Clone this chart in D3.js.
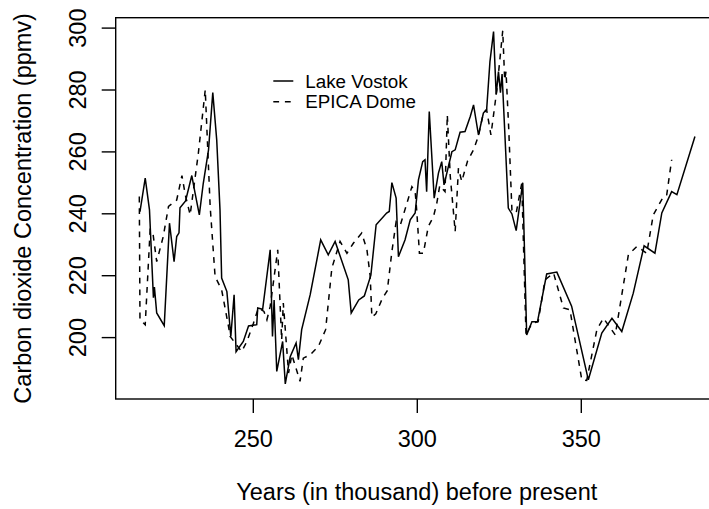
<!DOCTYPE html>
<html>
<head>
<meta charset="utf-8">
<script src="https://cdn.jsdelivr.net/npm/d3@7"></script>
<style>
  body { margin: 0; background: #fff; }
  svg { display: block; font-family: "Liberation Sans", Arial, sans-serif; }
  .axis path { display: none; }
  .axis line { stroke: #000; stroke-width: 1.4; }
  .axis text { font-size: 23.5px; fill: #000; }
</style>
</head>
<body>
<script>
var seriesNames = ["Lake Vostok", "EPICA Dome"];

var vostokYears = [215.6, 217.2, 218.5, 219.7, 220.0, 220.7, 223.0, 224.6, 226.0, 226.8, 227.5, 227.8, 229.5, 231.4,
    232.4, 233.7, 234.9, 236.5, 237.8, 239.0, 240.0, 240.5, 242.1, 243.3, 244.3, 244.9, 247.1, 248.7, 251.2, 251.5,
    253.0, 255.3, 256.0, 256.5, 257.3, 259.1, 259.9, 261.4, 263.2, 263.9, 264.9, 267.5, 270.7, 273.0, 275.1, 279.1,
    280.0, 282.3, 284.0, 286.0, 287.6, 290.8, 291.6, 292.4, 293.7, 294.4, 296.4, 298.0, 299.5, 300.5, 301.8, 302.5,
    303.0, 303.8, 305.3, 306.6, 307.6, 308.3, 310.7, 311.7, 313.2, 314.7, 316.3, 317.3, 318.8, 320.3, 321.3, 322.3,
    323.4, 324.2, 324.9, 325.5, 326.0, 327.9, 329.0, 330.3, 332.3, 333.5, 335.1, 336.8, 339.6, 342.7, 347.2, 352.3,
    356.4, 359.5, 362.5, 366.0, 369.3, 372.6, 374.7, 377.7, 379.3, 384.8];
var vostokCO2 = [240.5, 251.4, 241.1, 212.7, 216.2, 207.8, 203.7, 236.8, 224.4, 232.5, 233.7, 241.8, 244.0, 252.2,
    246.5, 239.5, 249.7, 260.5, 279.0, 263.7, 241.1, 219.1, 214.7, 200.2, 213.7, 195.3, 198.6, 203.6, 204.0, 209.4,
    209.0, 228.2, 200.2, 212.0, 188.9, 198.6, 184.9, 193.7, 198.1, 192.7, 202.4, 213.7, 231.4, 226.6, 230.9, 218.5,
    207.8, 212.0, 213.3, 220.0, 236.3, 240.1, 240.6, 249.9, 244.9, 226.0, 231.4, 237.9, 240.1, 250.8, 256.7, 257.3,
    247.0, 272.9, 244.9, 253.0, 256.7, 249.2, 259.9, 260.5, 266.2, 266.4, 271.3, 275.0, 265.3, 272.4, 273.6, 289.0,
    298.7, 278.3, 285.8, 279.0, 285.0, 241.7, 239.8, 234.4, 249.9, 200.7, 205.0, 205.0, 220.4, 221.0, 210.0, 186.2,
    201.3, 206.1, 201.8, 214.2, 229.5, 227.1, 240.1, 247.0, 246.0, 264.8];

var epicaYears = [215.4, 215.6, 217.2, 218.7, 219.5, 220.7, 222.7, 224.3, 226.8, 228.4, 229.4, 230.9, 233.4, 235.5,
    237.0, 238.5, 240.5, 242.6, 243.1, 246.6, 248.2, 250.2, 251.7, 253.4, 254.3, 255.3, 257.6, 258.3, 258.8, 259.3,
    260.9, 261.9, 264.4, 265.4, 267.5, 270.0, 272.2, 274.1, 276.6, 278.7, 280.7, 283.2, 284.8, 285.8, 286.3, 287.5,
    289.5, 291.0, 292.4, 293.7, 295.0, 297.0, 298.5, 299.5, 300.0, 300.8, 302.0, 303.5, 305.1, 306.1, 307.0, 308.6,
    309.3, 310.2, 311.2, 311.7, 312.7, 313.7, 315.5, 317.3, 318.8, 320.3, 321.3, 322.6, 323.4, 324.4, 326.2, 326.8,
    327.2, 328.0, 329.0, 330.3, 332.0, 333.3, 335.1, 337.0, 339.1, 341.7, 344.7, 346.7, 350.3, 351.8, 354.9, 356.9,
    360.5, 364.5, 367.1, 370.1, 372.1, 375.2, 376.2, 377.7];
var epicaCO2 = [245.4, 205.6, 204.0, 234.7, 234.0, 224.4, 232.5, 242.2, 244.3, 252.2, 246.0, 239.5, 259.4, 279.9,
    242.2, 219.6, 215.3, 203.4, 200.2, 195.3, 198.6, 204.5, 209.4, 208.3, 205.6, 209.9, 228.2, 211.0, 199.1, 211.0,
    188.4, 194.3, 185.7, 193.2, 194.3, 197.0, 202.4, 222.3, 230.9, 227.1, 230.4, 233.6, 228.2, 219.6, 206.5, 207.5,
    212.5, 215.0, 227.6, 237.3, 236.3, 243.3, 248.6, 247.0, 240.6, 227.1, 227.1, 235.7, 239.0, 243.3, 249.0, 247.0,
    271.8, 252.0, 240.1, 234.1, 254.6, 250.3, 257.0, 260.5, 265.0, 272.4, 273.4, 265.3, 271.8, 279.9, 299.0, 283.0,
    285.8, 268.0, 241.0, 240.1, 249.7, 200.7, 204.5, 205.0, 218.5, 220.7, 209.4, 208.8, 186.2, 186.0, 202.4, 206.1,
    200.7, 226.6, 229.3, 227.1, 239.5, 245.4, 246.0, 257.3];

var xTicks = [250, 300, 350];
var yTicks = [200, 220, 240, 260, 280, 300];

var svgContainer,
    svgWidth = 709,
    svgHeight = 509,
    box = {left: 115.7, top: 17.7, right: 717.9, bottom: 399},
    tickLength = 14,
    xScale, yScale;

function init() {
    svgContainer = d3.select("body").append("svg")
        .attr("width", svgWidth)
        .attr("height", svgHeight);

    // R-style ranges: data range padded by 4% on each side
    xScale = d3.scaleLinear().domain([208.2, 391.8]).range([box.left, box.right]);
    yScale = d3.scaleLinear().domain([180.0, 303.2]).range([box.bottom, box.top]);

    drawAxes();
    drawSeries(vostokYears, vostokCO2, null);
    drawSeries(epicaYears, epicaCO2, "5.8,5.8");
    drawLegend();
}

function drawAxes() {
    var xAxis = d3.axisBottom(xScale).tickValues(xTicks).tickSize(tickLength).tickFormat(d3.format("d"));
    var yAxis = d3.axisLeft(yScale).tickValues(yTicks).tickSize(tickLength).tickFormat(d3.format("d"));

    var gx = svgContainer.append("g")
        .attr("class", "axis")
        .attr("transform", "translate(0," + box.bottom + ")")
        .call(xAxis);
    gx.selectAll("text").attr("y", 48).attr("dy", 0);

    var gy = svgContainer.append("g")
        .attr("class", "axis")
        .attr("transform", "translate(" + box.left + ",0)")
        .call(yAxis);
    gy.selectAll("text")
        .attr("x", 0)
        .attr("y", -29.5)
        .attr("dy", 0)
        .attr("text-anchor", "middle")
        .attr("transform", "rotate(-90)");

    svgContainer.append("rect")
        .attr("x", box.left)
        .attr("y", box.top)
        .attr("width", box.right - box.left)
        .attr("height", box.bottom - box.top)
        .attr("fill", "none")
        .attr("stroke", "#000")
        .attr("stroke-width", 1.4);

    svgContainer.append("text")
        .attr("x", (box.left + box.right) / 2)
        .attr("y", 500)
        .attr("text-anchor", "middle")
        .style("font-size", "23.5px")
        .text("Years (in thousand) before present");

    var cy = (box.top + box.bottom) / 2;
    svgContainer.append("text")
        .attr("transform", "translate(31," + cy + ") rotate(-90)")
        .attr("text-anchor", "middle")
        .style("font-size", "23.5px")
        .text("Carbon dioxide Concentration (ppmv)");
}

function drawSeries(years, values, dash) {
    var points = years.map((x, i) => ({x: x, y: values[i]}));
    var line = d3.line().x(d => xScale(d.x)).y(d => yScale(d.y));
    svgContainer.append("path")
        .datum(points)
        .attr("d", line)
        .attr("fill", "none")
        .attr("stroke", "#000")
        .attr("stroke-width", 1.5)
        .attr("stroke-dasharray", dash);
}

function drawLegend() {
    var dashes = [null, "5.8,5.8"];
    var legend = svgContainer.append("g").attr("transform", "translate(273.3,81)");
    seriesNames.forEach((name, i) => {
        legend.append("line")
            .attr("x1", 0).attr("x2", 20)
            .attr("y1", i * 20.7).attr("y2", i * 20.7)
            .attr("stroke", "#000")
            .attr("stroke-width", 1.5)
            .attr("stroke-dasharray", dashes[i]);
        legend.append("text")
            .attr("x", 32)
            .attr("y", i * 20.7)
            .attr("dy", "0.35em")
            .style("font-size", "18.8px")
            .text(name);
    });
}

init();
</script>
</body>
</html>
